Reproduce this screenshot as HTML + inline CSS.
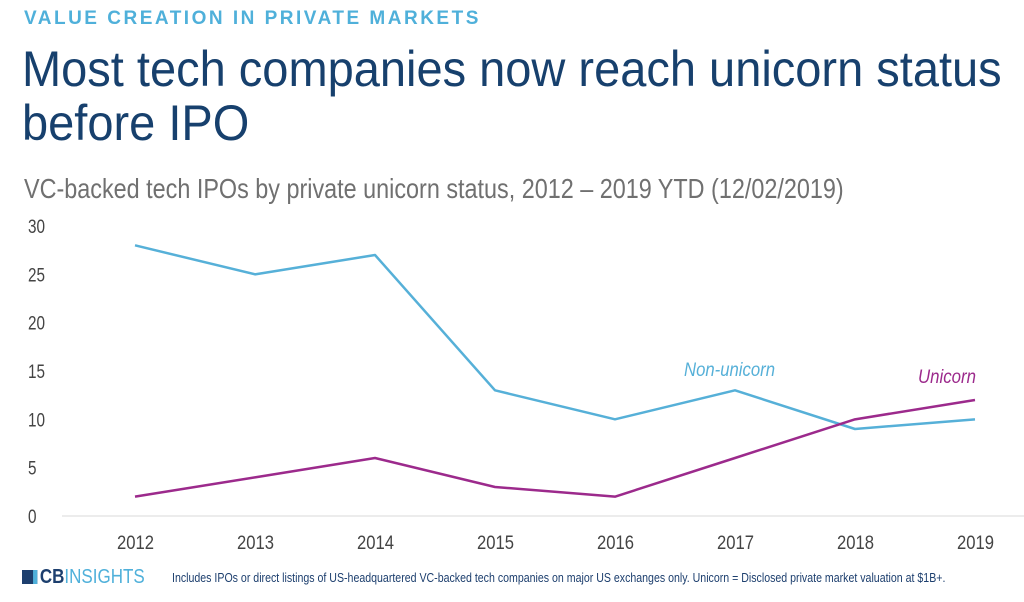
<!DOCTYPE html>
<html><head><meta charset="utf-8"><style>
body{margin:0;width:1024px;height:602px;background:#fff;overflow:hidden;font-family:"Liberation Sans",sans-serif;position:relative}
.t{position:absolute;white-space:nowrap;transform-origin:0 0}
</style></head><body>
<div class="t" style="left:24px;top:8px;font-size:19px;font-weight:bold;letter-spacing:2.5px;color:#4fb0da">VALUE CREATION IN PRIVATE MARKETS</div>
<div class="t" style="left:22px;top:42px;font-size:50px;line-height:54px;color:#17406d;transform:scaleX(0.94)">Most tech companies now reach unicorn status<br>before IPO</div>
<div class="t" style="left:24px;top:173px;font-size:28px;color:#707070;transform:scaleX(0.835)">VC-backed tech IPOs by private unicorn status, 2012 – 2019 YTD (12/02/2019)</div>
<svg id="c" width="1024" height="602" style="position:absolute;left:0;top:0"></svg>
<div class="t" style="left:22px;top:566px;font-size:20px;color:#1d3f6e;transform:scaleX(0.85)"><span style="display:inline-block;width:18px;height:14px;background:#1d3f6e;margin-right:3px;vertical-align:-1px;border-right:5px solid #4fb0da;box-sizing:border-box"></span><b>CB</b><span style="color:#4fb0da">INSIGHTS</span></div>
<div class="t" style="left:172px;top:571px;font-size:12.5px;color:#1d3f6e;transform:scaleX(0.848)">Includes IPOs or direct listings of US-headquartered VC-backed tech companies on major US exchanges only. Unicorn = Disclosed private market valuation at $1B+.</div>
<script>
const years=["2012","2013","2014","2015","2016","2017","2018","2019"];
const nonUnicorn=[28,25,27,13,10,13,9,10];
const unicorn=[2,4,6,3,2,6,10,12];
const yTicks=[0,5,10,15,20,25,30];
const NS="http://www.w3.org/2000/svg";
const svg=document.getElementById('c');
const x=i=>135+i*120;
const y=v=>516-v*(290/30);
function mk(t,a){const e=document.createElementNS(NS,t);for(const k in a)e.setAttribute(k,a[k]);svg.appendChild(e);return e;}
const base=mk('line',{x1:62,x2:1024,y1:y(0),y2:y(0),stroke:'#e6e6e6','stroke-width':1.5});


yTicks.forEach(v=>{const s=String(v);const t=mk('text',{x:28,y:y(v)+7,'font-size':19,fill:'#444',textLength:s.length*8.5,lengthAdjust:'spacingAndGlyphs'});t.textContent=s;

});
years.forEach((yr,i)=>{const t=mk('text',{x:x(i)-18,y:549,'font-size':19,fill:'#444',textLength:37,lengthAdjust:'spacingAndGlyphs'});t.textContent=yr;

});
function line(d,c,n){const p=mk('polyline',{points:d.map((v,i)=>x(i)+','+y(v)).join(' '),fill:'none',stroke:c,'stroke-width':2.5,'stroke-linejoin':'round'});

}
line(nonUnicorn,'#56b0d8','non-unicorn-line');
line(unicorn,'#9c2a8c','unicorn-line');
const l1=mk('text',{x:684,y:376,'font-size':19,fill:'#56b0d8','font-style':'italic',textLength:91,lengthAdjust:'spacingAndGlyphs'});l1.textContent='Non-unicorn';


const l2=mk('text',{x:918,y:383,'font-size':19,fill:'#9c2a8c','font-style':'italic',textLength:58,lengthAdjust:'spacingAndGlyphs'});l2.textContent='Unicorn';


</script>
</body></html>
